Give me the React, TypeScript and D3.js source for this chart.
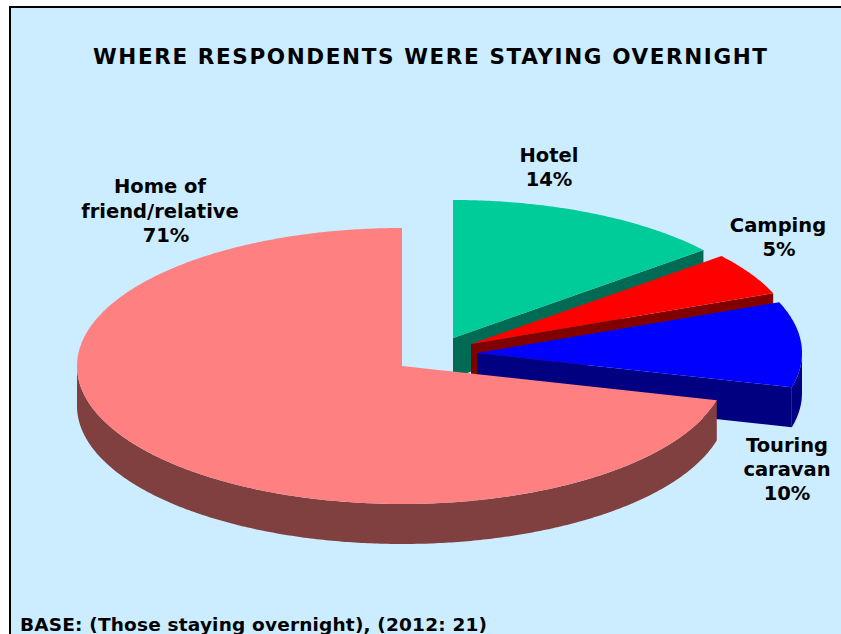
import React from "react";
import * as d3 from "d3";

const categories = ["Hotel", "Camping", "Touring caravan", "Home of friend/relative"];
const shares = [14, 5, 10, 71];
const labelLines = [["Hotel", "14%"], ["Camping", "5%"], ["Touring", "caravan", "10%"], ["Home of", "friend/relative", "71%"]];
const topColors = ["#00CC99", "#FF0000", "#0000FF", "#FF8080"];
const wallColors = ["#006B54", "#800000", "#000080", "#804040"];

const W = 841, H = 634;
const RX = 325, RY = 138, DEPTH = 40;
const centers: [number, number][] = [[453, 338], [471, 344], [477, 353], [402, 366]];
const labelXs = [[549, 549], [778, 779], [787, 787, 787], [160, 160, 166]];
const labelY: [number, number][] = [[162, 24], [231.5, 24], [451.5, 24], [193, 24.5]];

const arcs = d3.pie<number>().sort(null).startAngle(0).endAngle(2 * Math.PI)(shares);

const line = d3.line<[number, number]>();

function pt(c: [number, number], a: number, dy = 0): [number, number] {
  return [c[0] + RX * Math.sin(a), c[1] - RY * Math.cos(a) + dy];
}
function samples(a0: number, a1: number): number[] {
  const n = Math.max(2, Math.ceil(Math.abs(a1 - a0) / 0.01));
  return d3.range(n + 1).map((i) => a0 + ((a1 - a0) * i) / n);
}
function topPath(c: [number, number], a0: number, a1: number) {
  return line([c, ...samples(a0, a1).map((a) => pt(c, a))]) + "Z";
}
function rimPath(c: [number, number], a0: number, a1: number) {
  const lo = Math.max(a0, Math.PI / 2), hi = Math.min(a1, (3 * Math.PI) / 2);
  if (hi <= lo) return "";
  const s = samples(lo, hi);
  return line([...s.map((a) => pt(c, a)), ...s.slice().reverse().map((a) => pt(c, a, DEPTH))]) + "Z";
}
function facePath(c: [number, number], a: number) {
  return line([c, pt(c, a), pt(c, a, DEPTH), [c[0], c[1] + DEPTH]]) + "Z";
}

export default function App() {
  const font = "'DejaVu Sans', Verdana, sans-serif";
  return (
    <svg width={W} height={H} style={{ position: "absolute", left: 0, top: 0, background: "#fff" }} fontFamily={font}>
      <rect x={10} y={7} width={W} height={H} fill="#CCECFF" stroke="#000" strokeWidth={2} />
      <text x={93} y={64} fontSize={21.5} fontWeight="bold" textLength={674} lengthAdjust="spacing">
        WHERE RESPONDENTS WERE STAYING OVERNIGHT
      </text>
      {arcs.map((d, i) => (
        <g key={categories[i]}>
          <path d={facePath(centers[i], d.endAngle)} fill={wallColors[i]} />
          <path d={rimPath(centers[i], d.startAngle, d.endAngle)} fill={wallColors[i]} />
          <path d={topPath(centers[i], d.startAngle, d.endAngle)} fill={topColors[i]} />
        </g>
      ))}
      {labelLines.map((lines, i) => (
        <text key={i} textAnchor="middle" fontSize={19.5} fontWeight="bold" fill="#000">
          {lines.map((l, j) => (
            <tspan key={j} x={labelXs[i][j]} y={labelY[i][0] + j * labelY[i][1]}>{l}</tspan>
          ))}
        </text>
      ))}
      <text x={20} y={631} fontSize={18.5} fontWeight="bold" textLength={467} lengthAdjust="spacing">
        BASE: (Those staying overnight), (2012: 21)
      </text>
    </svg>
  );
}
